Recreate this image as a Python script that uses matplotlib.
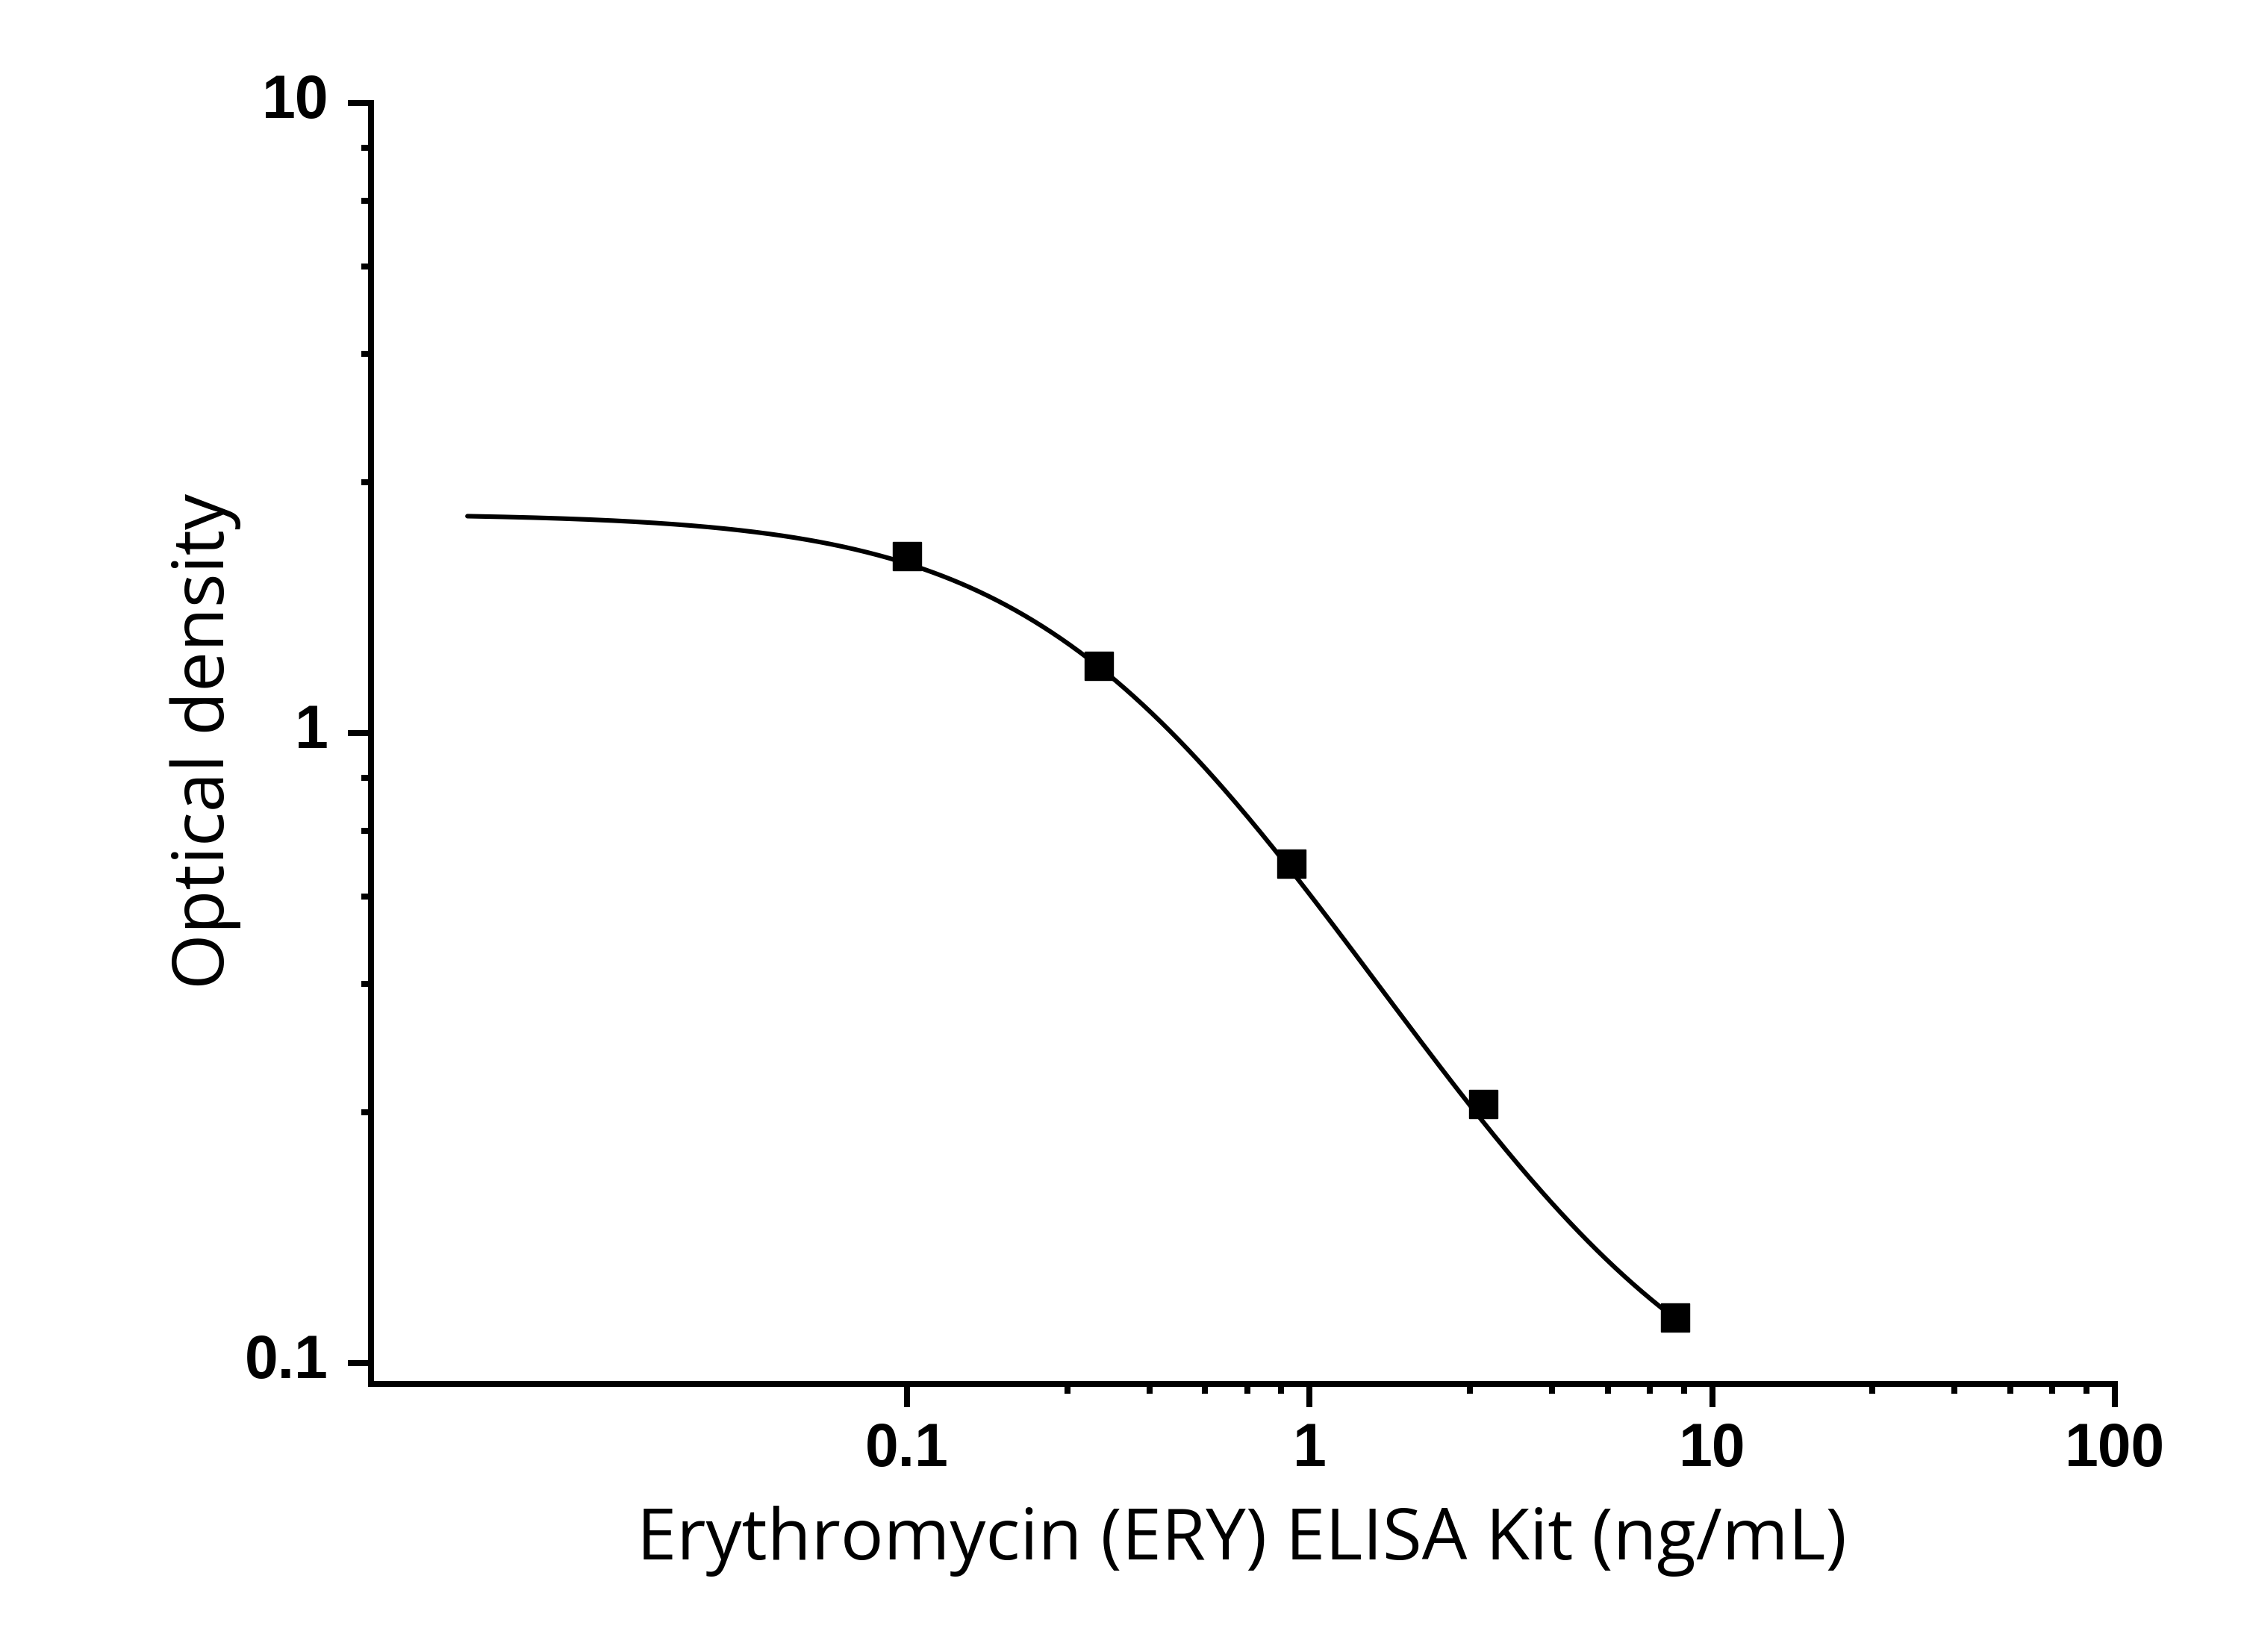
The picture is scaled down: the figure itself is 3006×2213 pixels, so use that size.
import numpy as np
import matplotlib
matplotlib.use("Agg")
import matplotlib.pyplot as plt
from matplotlib.ticker import FixedLocator, FixedFormatter, NullFormatter
import matplotlib.transforms as mtransforms

# ---- data ----
conc = [0.1, 0.3, 0.9, 2.7, 8.1]                 # ng/mL
od = [1.91, 1.28, 0.62, 0.258, 0.118]            # optical density
# four-parameter logistic fit
fit_top = 2.23
fit_bottom = 0.07
fit_ec50 = 0.362
fit_hill = 1.22
curve_start = 0.0081
curve_end = 8.1

x_major = [0.1, 1, 10, 100]
x_major_labels = ["0.1", "1", "10", "100"]
x_minor = [0.25, 0.4, 0.55, 0.7, 0.85, 2.5, 4, 5.5, 7, 8.5, 25, 40, 55, 70, 85]
y_major = [0.1, 1, 10]
y_major_labels = ["0.1", "1", "10"]
y_minor = [0.25, 0.4, 0.55, 0.7, 0.85, 2.5, 4, 5.5, 7, 8.5]

xlabel = "Erythromycin (ERY) ELISA Kit (ng/mL)"
ylabel = "Optical density"

plt.rcParams["font.family"] = ["Liberation Sans", "DejaVu Sans"]
plt.rcParams["font.weight"] = "bold"
plt.rcParams["xtick.labelsize"] = 58
plt.rcParams["ytick.labelsize"] = 58

W, H = 3006, 2213
fig = plt.figure(figsize=(W / 100, H / 100), dpi=100)
ax = fig.add_axes([497 / W, 1 - 1854 / H, (2833 - 497) / W, (1854 - 138) / H])

xc = np.logspace(np.log10(curve_start), np.log10(curve_end), 400)
yc = fit_bottom + (fit_top - fit_bottom) / (1 + (xc / fit_ec50) ** fit_hill)
ax.plot(xc, yc, color="black", lw=4.4, solid_capstyle="round", zorder=2)
ax.plot(conc, od, linestyle="none", marker="s", ms=27, color="black", zorder=3)

ax.set_xscale("log")
ax.set_yscale("log")
ax.set_xlim(10 ** -2.331, 100)
ax.set_ylim(10 ** -1.0332, 10)

ax.xaxis.set_major_locator(FixedLocator(x_major))
ax.xaxis.set_major_formatter(FixedFormatter(x_major_labels))
ax.xaxis.set_minor_locator(FixedLocator(x_minor))
ax.xaxis.set_minor_formatter(NullFormatter())
ax.yaxis.set_major_locator(FixedLocator(y_major))
ax.yaxis.set_major_formatter(FixedFormatter(y_major_labels))
ax.yaxis.set_minor_locator(FixedLocator(y_minor))
ax.yaxis.set_minor_formatter(NullFormatter())

for s in ["top", "right"]:
    ax.spines[s].set_visible(False)
for s in ["left", "bottom"]:
    ax.spines[s].set_linewidth(5.8)
    ax.spines[s].set_capstyle("projecting")

ax.tick_params(which="major", direction="out", length=22, width=5.8)
ax.tick_params(which="minor", direction="out", length=9.5, width=5.8)
ax.tick_params(axis="x", which="major", pad=15)
ax.tick_params(axis="y", which="major", pad=19)

off = mtransforms.ScaledTranslation(0, 7 / 72, fig.dpi_scale_trans)
for lab in ax.get_yticklabels():
    lab.set_transform(lab.get_transform() + off)

label_font = dict(family=["Open Sans", "DejaVu Sans"], size=69, weight="normal")
ax.set_xlabel(xlabel, va="baseline", **label_font)
ax.set_ylabel(ylabel, va="baseline", **label_font)
ax.xaxis.set_label_coords(1663 / W, 1 - 2089 / H, transform=fig.transFigure)
ax.yaxis.set_label_coords(300 / W, 1 - 992.6 / H, transform=fig.transFigure)

fig.savefig("out.png", dpi=100, facecolor="white")
